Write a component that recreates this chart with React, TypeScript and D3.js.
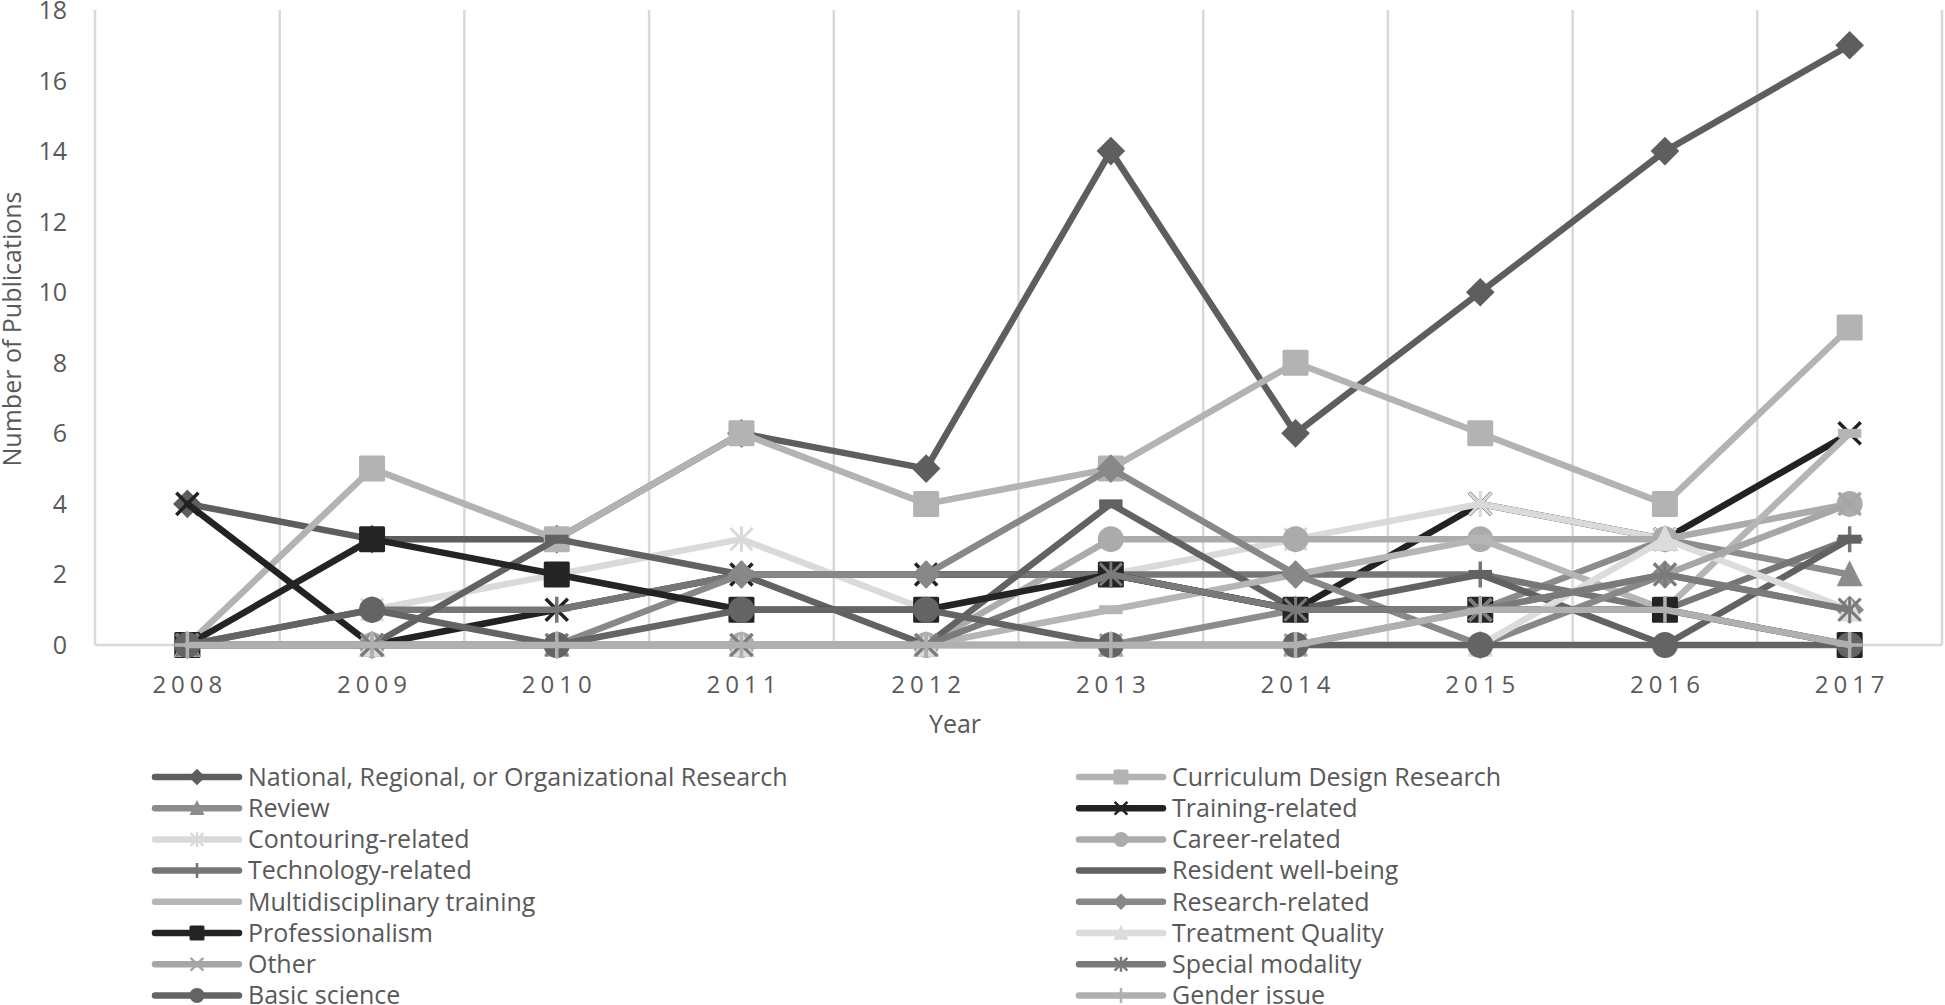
import React, { useRef, useEffect } from 'react';
import * as d3 from 'd3';

// Data
const years = ['2008', '2009', '2010', '2011', '2012', '2013', '2014', '2015', '2016', '2017'];
const yTicks = [0, 2, 4, 6, 8, 10, 12, 14, 16, 18];

const national = [4, 3, 3, 6, 5, 14, 6, 10, 14, 17];
const curriculum = [0, 5, 3, 6, 4, 5, 8, 6, 4, 9];
const review = [0, 0, 0, 0, 0, 0, 1, 1, 3, 2];
const training = [4, 0, 1, 2, 2, 2, 1, 4, 3, 6];
const contouring = [0, 1, 2, 3, 1, 2, 3, 4, 3, 4];
const career = [0, 0, 0, 0, 0, 3, 3, 3, 3, 4];
const technology = [0, 1, 1, 2, 2, 2, 2, 2, 1, 3];
const residentWellBeing = [0, 0, 3, 2, 0, 4, 1, 2, 0, 3];
const multidisciplinary = [0, 0, 0, 0, 0, 1, 2, 3, 1, 6];
const researchRelated = [0, 0, 0, 2, 2, 5, 2, 0, 2, 1];
const professionalism = [0, 3, 2, 1, 1, 2, 1, 1, 1, 0];
const treatmentQuality = [0, 0, 0, 0, 0, 0, 0, 0, 3, 1];
const other = [0, 0, 0, 0, 0, 0, 0, 1, 2, 4];
const specialModality = [0, 0, 0, 0, 0, 2, 1, 1, 2, 1];
const basicScience = [0, 1, 0, 1, 1, 0, 0, 0, 0, 0];
const genderIssue = [0, 0, 0, 0, 0, 0, 0, 1, 1, 0];

const seriesNames = [
  'National, Regional, or Organizational Research',
  'Curriculum Design Research',
  'Review',
  'Training-related',
  'Contouring-related',
  'Career-related',
  'Technology-related',
  'Resident well-being',
  'Multidisciplinary training',
  'Research-related',
  'Professionalism',
  'Treatment Quality',
  'Other',
  'Special modality',
  'Basic science',
  'Gender issue',
];
const seriesValues = [
  national, curriculum, review, training, contouring, career, technology, residentWellBeing,
  multidisciplinary, researchRelated, professionalism, treatmentQuality, other, specialModality,
  basicScience, genderIssue,
];

// styles
const seriesColors = [
  '#5e5e5e', '#b3b3b3', '#8c8c8c', '#222222', '#dadada', '#ababab', '#767676', '#626262',
  '#b5b5b5', '#888888', '#242424', '#dcdcdc', '#a6a6a6', '#7a7a7a', '#646464', '#b0b0b0',
];
const seriesMarkers = [
  'diamond', 'square', 'triangle', 'x', 'star', 'circle', 'plus', 'dash',
  'dash', 'diamond', 'square', 'triangle', 'x', 'star', 'circle', 'plus',
];

const FONT = "'Open Sans', 'Noto Sans', sans-serif";
const TEXT = '#595959';

type G = d3.Selection<SVGGElement, unknown, null, undefined>;

function drawMarker(g: G, kind: string, cx: number, cy: number, s: number, color: string, legend = false) {
  const h = s / 2;
  if (kind === 'diamond') {
    const r = h * 1.1;
    g.append('path').attr('d', `M${cx},${cy - r}L${cx + r},${cy}L${cx},${cy + r}L${cx - r},${cy}Z`).attr('fill', color);
  } else if (kind === 'square') {
    g.append('rect').attr('x', cx - h).attr('y', cy - h).attr('width', s).attr('height', s).attr('rx', 1.5).attr('fill', color);
  } else if (kind === 'triangle') {
    g.append('path').attr('d', `M${cx},${cy - h * 1.1}L${cx + h},${cy + h * 0.9}L${cx - h},${cy + h * 0.9}Z`).attr('fill', color);
  } else if (kind === 'circle') {
    g.append('circle').attr('cx', cx).attr('cy', cy).attr('r', h).attr('fill', color);
  } else if (kind === 'x') {
    const r = h * 0.85;
    g.append('path').attr('d', `M${cx - r},${cy - r}L${cx + r},${cy + r}M${cx + r},${cy - r}L${cx - r},${cy + r}`)
      .attr('stroke', color).attr('stroke-width', legend ? 2.5 : 3.5).attr('fill', 'none');
  } else if (kind === 'star') {
    const r = h * 0.85;
    g.append('path').attr('d', `M${cx - r},${cy - r}L${cx + r},${cy + r}M${cx + r},${cy - r}L${cx - r},${cy + r}M${cx},${cy - h}L${cx},${cy + h}`)
      .attr('stroke', color).attr('stroke-width', legend ? 2.5 : 3).attr('fill', 'none');
  } else if (kind === 'plus') {
    g.append('path').attr('d', `M${cx - h},${cy}L${cx + h},${cy}M${cx},${cy - h}L${cx},${cy + h}`)
      .attr('stroke', color).attr('stroke-width', legend ? 2.5 : 3.5).attr('fill', 'none');
  } else if (kind === 'dash') {
    if (!legend) g.append('rect').attr('x', cx - h * 0.9).attr('y', cy - 4.5).attr('width', s * 0.9).attr('height', 9).attr('fill', color);
  }
}

const App: React.FC = () => {
  const svgRef = useRef<SVGSVGElement>(null);
  const width = 1945;
  const height = 1005;

  useEffect(() => {
    if (!svgRef.current) return;
    const svg = d3.select(svgRef.current);
    svg.selectAll('*').remove();

    const x = d3.scaleBand<string>().domain(years).range([95, 1942]).padding(0);
    const y = d3.scaleLinear().domain([0, 18]).range([645, 10]);
    const cx = (yr: string) => x(yr)! + x.bandwidth() / 2;

    // vertical gridlines at category boundaries
    const bounds = years.map(yr => x(yr)!).concat([x.range()[1]]);
    svg.append('g').selectAll('line').data(bounds).enter().append('line')
      .attr('x1', d => d).attr('x2', d => d)
      .attr('y1', y(18)).attr('y2', y(0))
      .attr('stroke', '#d9d9d9').attr('stroke-width', 2.5);

    // baseline
    svg.append('line')
      .attr('x1', x.range()[0]).attr('x2', x.range()[1])
      .attr('y1', y(0)).attr('y2', y(0))
      .attr('stroke', '#d9d9d9').attr('stroke-width', 2.5);

    // y tick labels
    svg.append('g').selectAll('text').data(yTicks).enter().append('text')
      .attr('x', 67).attr('y', d => y(d)).attr('dy', '0.36em')
      .attr('text-anchor', 'end').attr('font-family', FONT).attr('font-size', 25)
      .attr('fill', TEXT).text(d => d);

    // x tick labels
    svg.append('g').selectAll('text').data(years).enter().append('text')
      .attr('x', d => cx(d) + 2.5).attr('y', 693)
      .attr('text-anchor', 'middle').attr('font-family', FONT).attr('font-size', 24)
      .attr('letter-spacing', 5).attr('fill', TEXT).text(d => d);

    // axis titles
    svg.append('text')
      .attr('transform', 'translate(21,329) rotate(-90)')
      .attr('text-anchor', 'middle').attr('font-family', FONT).attr('font-size', 25)
      .attr('fill', TEXT).text('Number of Publications');
    svg.append('text')
      .attr('x', 955).attr('y', 733)
      .attr('text-anchor', 'middle').attr('font-family', FONT).attr('font-size', 25)
      .attr('fill', TEXT).text('Year');

    // series
    const line = d3.line<number>().x((_, i) => cx(years[i])).y(d => y(d));
    seriesValues.forEach((vals, si) => {
      const g = svg.append('g') as unknown as G;
      g.append('path').attr('d', line(vals)!)
        .attr('fill', 'none').attr('stroke', seriesColors[si])
        .attr('stroke-width', 6.5).attr('stroke-linejoin', 'round').attr('stroke-linecap', 'round');
      vals.forEach((v, i) => drawMarker(g, seriesMarkers[si], cx(years[i]), y(v), 26, seriesColors[si]));
    });

    // legend
    const legend = svg.append('g') as unknown as G;
    const colX = [155, 1079];
    seriesNames.forEach((name, si) => {
      const lx = colX[si % 2];
      const ly = 777 + Math.floor(si / 2) * 31.2;
      legend.append('line')
        .attr('x1', lx).attr('x2', lx + 84).attr('y1', ly).attr('y2', ly)
        .attr('stroke', seriesColors[si]).attr('stroke-width', 6.5).attr('stroke-linecap', 'round');
      drawMarker(legend, seriesMarkers[si], lx + 42, ly, 15, seriesColors[si], true);
      legend.append('text')
        .attr('x', lx + 93).attr('y', ly).attr('dy', '0.35em')
        .attr('font-family', FONT).attr('font-size', 25)
        .attr('fill', TEXT).text(name);
    });
  }, []);

  return (
    <svg ref={svgRef} width={width} height={height}
      style={{ position: 'absolute', left: 0, top: 0, background: '#fff' }} />
  );
};

export default App;
